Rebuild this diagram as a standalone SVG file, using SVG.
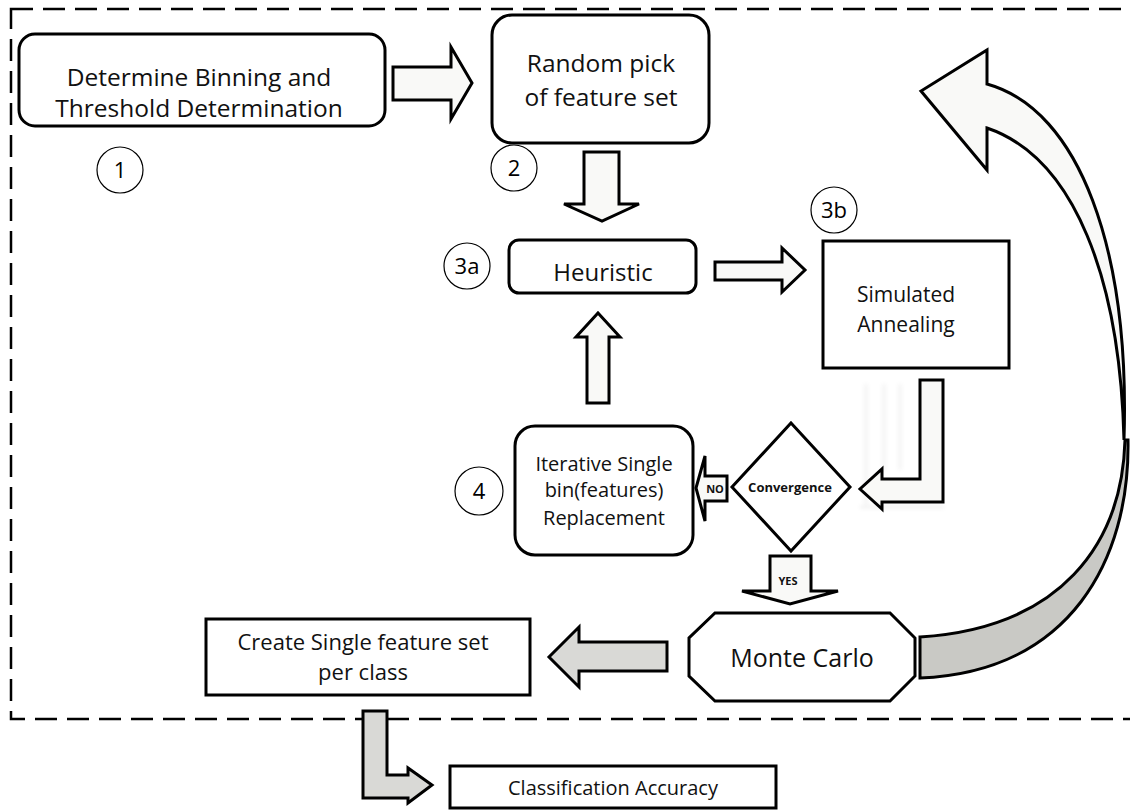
<svg xmlns="http://www.w3.org/2000/svg" width="1130" height="811" viewBox="0 0 1130 811">
  <defs>
    <style>
      .box { fill: #ffffff; stroke: #000000; stroke-width: 3; }
      .step { fill: none; stroke: #000000; stroke-width: 1.2; }
      .num { font-family: "Open Sans", "Liberation Sans", sans-serif; font-size: 22px; fill: #000; text-anchor: middle; }
      .lbl { font-family: "Open Sans", "Liberation Sans", sans-serif; fill: #111; text-anchor: middle; }
      .bold { font-family: "Open Sans", "Liberation Sans", sans-serif; font-weight: bold; fill: #111; text-anchor: middle; }
      .arrow-light { fill: #f9f9f7; stroke: #000000; stroke-width: 3; stroke-linejoin: miter; }
      .arrow-grey { fill: #d9d9d6; stroke: #000000; stroke-width: 3; stroke-linejoin: miter; }
      .arrow-curve { fill: #c9c9c5; stroke: #000000; stroke-width: 3; stroke-linejoin: miter; }
      .frame { fill: none; stroke: #000000; stroke-width: 2.5; stroke-dasharray: 22 10; }
    </style>
    <filter id="smudge" x="-20%" y="-20%" width="140%" height="140%">
      <feGaussianBlur stdDeviation="2"/>
    </filter>
  </defs>

  <rect width="1130" height="811" fill="#ffffff"/>

  <!-- dashed boundary of the iterative search loop -->
  <rect class="frame" x="11" y="9" width="1140" height="710"/>

  <!-- connectors -->
  <g id="connectors">
    <!-- 1 -> 2 -->
    <polygon class="arrow-light" points="393,67 451,67 451,47 472,83 451,119 451,100 393,100"/>
    <!-- 2 -> 3a -->
    <polygon class="arrow-light" points="584,152 619,152 619,204 639,204 602,221 564,204 584,204"/>
    <!-- 3a -> 3b -->
    <polygon class="arrow-light" points="715,262 782,262 782,248 805,270 782,292 782,280 715,280"/>
    <!-- 3b -> convergence (bent), with its faint ghost -->
    <g opacity="0.15" filter="url(#smudge)" stroke="#777" stroke-width="2" fill="none">
      <line x1="866" y1="384" x2="866" y2="505"/>
      <line x1="884" y1="384" x2="884" y2="470"/>
      <line x1="900" y1="384" x2="900" y2="470"/>
      <line x1="860" y1="507" x2="944" y2="507"/>
    </g>
    <polygon class="arrow-light" points="920,380 943,380 943,502 882,502 882,509 860,489 882,469 882,479 920,479"/>
    <!-- convergence NO -> 4 -->
    <polygon class="arrow-light" points="696,488 705,456 705,476 727,476 727,501 705,501 705,521"/>
    <text class="bold" x="715" y="493" font-size="11">NO</text>
    <!-- 4 -> 3a -->
    <polygon class="arrow-light" points="598,313 620,337 609,337 609,403 587,403 587,337 576,337"/>
    <!-- convergence YES -> Monte Carlo -->
    <polygon class="arrow-light" points="770,556 811,556 811,591 838,591 790,604 742,591 770,591"/>
    <text class="bold" x="788" y="585" font-size="11">YES</text>
    <!-- Monte Carlo -> Create set -->
    <polygon class="arrow-grey" points="667,642 667,671 579,671 579,687 549,657 579,627 579,642"/>
    <!-- Create set -> Classification accuracy -->
    <polygon class="arrow-grey" points="363,711 387,711 387,775 408,775 408,768 432,785 408,803 408,798 363,798"/>
    <!-- Monte Carlo loop back to random pick (curved) -->
    <path class="arrow-curve" d="M 1125,440 C 1122,545 1060,628 920,637 L 920,678 C 1070,672 1130,560 1128,440 Z"/>
    <path class="arrow-light" d="M 987,84 L 987,50 L 921,91 L 987,170 L 987,128 C 1075,158 1120,280 1124,440 C 1130,250 1080,110 987,84 Z"/>
  </g>

  <g id="node-binning">
    <rect class="box" x="19" y="34" width="366" height="92" rx="16"/>
    <text class="lbl" x="199" y="86" font-size="24.5">Determine Binning and</text>
    <text class="lbl" x="199" y="117" font-size="24.5">Threshold Determination</text>
  </g>
  <g id="step-1">
    <circle class="step" cx="120" cy="170" r="23"/>
    <text class="num" x="120" y="178">1</text>
  </g>

  <g id="node-random-pick">
    <rect class="box" x="492" y="15" width="217" height="128" rx="20"/>
    <text class="lbl" x="601" y="72" font-size="24.5">Random pick</text>
    <text class="lbl" x="601" y="106" font-size="24.5">of feature set</text>
  </g>
  <g id="step-2">
    <circle class="step" cx="514" cy="168" r="23"/>
    <text class="num" x="514" y="176">2</text>
  </g>

  <g id="node-heuristic">
    <rect class="box" x="509" y="240" width="187" height="53" rx="10"/>
    <text class="lbl" x="603" y="281" font-size="24">Heuristic</text>
  </g>
  <g id="step-3a">
    <circle class="step" cx="467" cy="266" r="23"/>
    <text class="num" x="467" y="274">3a</text>
  </g>

  <g id="node-annealing">
    <rect class="box" x="823" y="241" width="186" height="127"/>
    <text class="lbl" x="906" y="302" font-size="21">Simulated</text>
    <text class="lbl" x="906" y="332" font-size="21">Annealing</text>
  </g>
  <g id="step-3b">
    <circle class="step" cx="834" cy="210" r="23"/>
    <text class="num" x="834" y="218">3b</text>
  </g>

  <g id="node-convergence">
    <polygon class="box" points="791,423 850,487 791,551 732,487"/>
    <text class="bold" x="790" y="492" font-size="13">Convergence</text>
  </g>

  <g id="node-replacement">
    <rect class="box" x="515" y="426" width="178" height="129" rx="20"/>
    <text class="lbl" x="604" y="471" font-size="20">Iterative Single</text>
    <text class="lbl" x="604" y="497" font-size="20">bin(features)</text>
    <text class="lbl" x="604" y="525" font-size="20">Replacement</text>
  </g>
  <g id="step-4">
    <circle class="step" cx="479" cy="491" r="24"/>
    <text class="num" x="479" y="499">4</text>
  </g>

  <g id="node-monte-carlo">
    <polygon class="box" points="715,613 890,613 915,638 915,676 890,701 715,701 689,676 689,638"/>
    <text class="lbl" x="802" y="667" font-size="25">Monte Carlo</text>
  </g>

  <g id="node-create-set">
    <rect class="box" x="206" y="619" width="324" height="76"/>
    <text class="lbl" x="363" y="650" font-size="22">Create Single feature set</text>
    <text class="lbl" x="363" y="680" font-size="22">per class</text>
  </g>

  <g id="node-accuracy">
    <rect class="box" x="450" y="766" width="326" height="42"/>
    <text class="lbl" x="613" y="795" font-size="20">Classification Accuracy</text>
  </g>
</svg>
